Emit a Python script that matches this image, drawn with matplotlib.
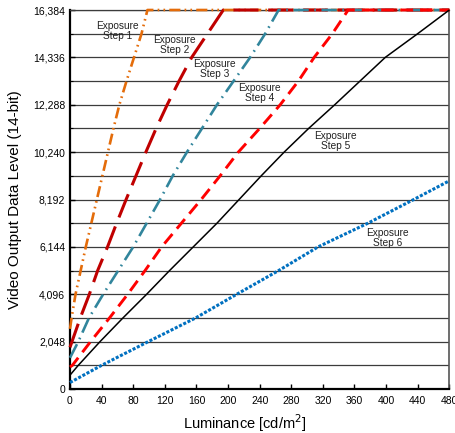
import matplotlib
matplotlib.use("Agg")
import matplotlib.pyplot as plt
from matplotlib.ticker import MultipleLocator, FuncFormatter

plt.rcParams['font.family'] = ['Liberation Sans', 'DejaVu Sans']
plt.rcParams['lines.scale_dashes'] = False

# Luminance (cd/m^2) vs. 14-bit output level for each exposure step
step1_lum = [0, 2, 7, 13.5, 20, 27, 34, 41, 48, 55, 62.5, 71.5, 81, 90.5, 98, 480]
step1_lvl = [2600, 3072, 4096, 5120, 6144, 7168, 8192, 9216, 10240, 11264,
             12288, 13312, 14336, 15360, 16384, 16384]

step2_lum = [0, 2.5, 13, 24.5, 35, 47.5, 59, 71, 83.5, 96, 109, 123, 138, 154, 174, 194, 480]
step2_lvl = [1800, 2048, 3072, 4096, 5120, 6144, 7168, 8192, 9216, 10240, 11264,
             12288, 13312, 14336, 15360, 16384, 16384]

step3_lum = [0, 10.5, 24, 42, 61, 80, 97, 114, 130, 148, 167, 186, 207, 228, 247, 264, 480]
step3_lvl = [1350, 2048, 3072, 4096, 5120, 6144, 7168, 8192, 9216, 10240, 11264,
             12288, 13312, 14336, 15360, 16384, 16384]

step4_lum = [0, 3, 26, 50, 73, 95, 116, 141, 166, 190, 213, 240, 266, 289, 309, 332, 352, 480]
step4_lvl = [950, 1024, 2048, 3072, 4096, 5120, 6144, 7168, 8192, 9216, 10240, 11264,
             12288, 13312, 14336, 15360, 16384, 16384]

step5_lum = [0, 10.5, 38, 67, 97, 126, 156, 186, 214, 242, 271, 302, 335, 367, 399, 440, 480]
step5_lvl = [600, 1024, 2048, 3072, 4096, 5120, 6144, 7168, 8192, 9216, 10240, 11264,
             12288, 13312, 14336, 15360, 16384]

step6_lum = [0, 40, 99, 159, 211, 264, 314, 377, 435, 480]
step6_lvl = [280, 1024, 2048, 3072, 4096, 5120, 6144, 7168, 8192, 9000]

step_labels = ["Exposure\nStep 1", "Exposure\nStep 2", "Exposure\nStep 3",
               "Exposure\nStep 4", "Exposure\nStep 5", "Exposure\nStep 6"]
label_lum = [60, 132, 183, 240, 336, 402]
label_lvl = [15480, 14870, 13850, 12800, 10740, 6530]

x_ticks = list(range(0, 481, 40))

fig = plt.figure(figsize=(4.56, 4.33), dpi=100)
ax = fig.add_axes([0.1535, 0.1016, 0.8318, 0.8753])

# horizontal grid every 1024 levels
ax.yaxis.set_major_locator(MultipleLocator(2048))
ax.yaxis.set_minor_locator(MultipleLocator(1024))
ax.grid(True, axis='y', which='both', color='#3c3c3c', linewidth=0.9, zorder=1)
ax.set_axisbelow(True)

styles = [
    dict(color='#E46C0A', lw=1.9, ls=(0, (8, 3, 1.2, 3, 1.2, 3))),
    dict(color='#C00000', lw=2.2, ls=(0, (18, 7))),
    dict(color='#31859C', lw=1.9, ls=(0, (11, 4, 1.2, 4))),
    dict(color='#FF0000', lw=2.1, ls=(0, (9, 5))),
    dict(color='#000000', lw=1.1, ls='-'),
    dict(color='#0070C0', lw=2.2, ls=(0, (2.2, 1.2))),
]
series = [(step1_lum, step1_lvl), (step2_lum, step2_lvl), (step3_lum, step3_lvl),
          (step4_lum, step4_lvl), (step5_lum, step5_lvl), (step6_lum, step6_lvl)]
for (lx, ly), st in zip(series, styles):
    ax.plot(lx, ly, color=st['color'], linewidth=st['lw'], linestyle=st['ls'],
            dash_capstyle='butt', solid_capstyle='butt', solid_joinstyle='round',
            clip_on=False, zorder=3)

for txt, lx, ly in zip(step_labels, label_lum, label_lvl):
    ax.text(lx, ly, txt, ha='center', va='center', fontsize=7.3,
            linespacing=1.0, color='#222222', zorder=4)

ax.set_xlim(0, 480)
ax.set_ylim(0, 16384)
ax.set_xticks(x_ticks)
ax.yaxis.set_major_formatter(FuncFormatter(lambda v, p: f"{int(v):,}"))
ax.tick_params(axis='both', which='both', direction='in', labelsize=7.5,
               color='black', right=False, top=False)
ax.tick_params(axis='both', which='major', length=3.5, width=1.0)
ax.tick_params(axis='y', which='minor', length=2.5, width=0.8)
ax.tick_params(axis='x', pad=5)

for side in ['left', 'bottom']:
    ax.spines[side].set_linewidth(1.6)
    ax.spines[side].set_color('black')
ax.spines['right'].set_linewidth(1.2)
ax.spines['right'].set_color('#555555')
ax.spines['top'].set_linewidth(0.9)
ax.spines['top'].set_color('#3c3c3c')

ax.set_xlabel("Luminance [cd/m$^2$]", fontsize=10.5)
ax.set_ylabel("Video Output Data Level (14-bit)", fontsize=11)
ax.xaxis.set_label_coords(0.461, -0.062)
ax.yaxis.set_label_coords(-0.127, 0.5)

fig.savefig("out.png", dpi=100)
